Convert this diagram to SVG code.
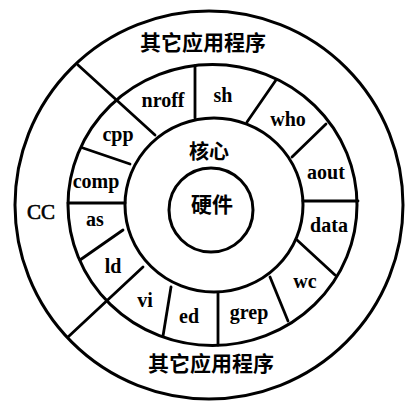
<svg xmlns="http://www.w3.org/2000/svg" width="409" height="402" viewBox="0 0 409 402">
<style>
.ring{fill:none;stroke:#000;stroke-width:3}
.div{stroke:#000;stroke-width:2.8;stroke-linecap:round}
.lbl{font-family:"Liberation Serif","DejaVu Serif",serif;font-weight:bold;font-size:20px;fill:#000;text-anchor:middle}
.cjk{font-family:"Noto Sans CJK SC","Noto Sans CJK TC",sans-serif;font-weight:bold;font-size:21px;fill:#000;text-anchor:middle}
</style>
<rect width="409" height="402" fill="#fff"/>
<g id="rings">
<circle class="ring" cx="209" cy="205" r="194"/>
<ellipse class="ring" cx="212.5" cy="205" rx="144.5" ry="140.5"/>
<ellipse class="ring" cx="214" cy="205" rx="89" ry="87"/>
<circle class="ring" cx="211" cy="210" r="42"/>
</g>
<g id="connectors">
<line class="div" x1="78" y1="65" x2="155" y2="135"/>
<line class="div" x1="68" y1="337" x2="143" y2="267"/>
<line class="div" x1="195" y1="66" x2="195" y2="118"/>
<line class="div" x1="276" y1="80" x2="247" y2="122"/>
<line class="div" x1="326" y1="124" x2="292" y2="157"/>
<line class="div" x1="303" y1="201" x2="358" y2="201"/>
<line class="div" x1="297" y1="240" x2="335" y2="275"/>
<line class="div" x1="270" y1="277" x2="288" y2="321"/>
<line class="div" x1="218" y1="293" x2="218" y2="345"/>
<line class="div" x1="171" y1="287" x2="163" y2="336"/>
<line class="div" x1="123" y1="230" x2="80" y2="260"/>
<line class="div" x1="68" y1="203" x2="125" y2="203"/>
<line class="div" x1="83" y1="148" x2="130" y2="164"/>
</g>
<g id="apps-top"><text class="cjk" x="203" y="50">其它应用程序</text></g>
<g id="apps-bottom"><text class="cjk" x="211" y="371">其它应用程序</text></g>
<g id="cc"><text class="lbl" x="41" y="219" style="font-weight:normal;font-size:21px;stroke:#000;stroke-width:0.6">CC</text></g>
<g id="kernel"><text class="cjk" x="209" y="159" style="font-size:20px">核心</text></g>
<g id="hardware"><text class="cjk" x="212" y="212">硬件</text></g>
<g id="nroff"><text class="lbl" x="163" y="107">nroff</text></g>
<g id="sh"><text class="lbl" x="223" y="102">sh</text></g>
<g id="who"><text class="lbl" x="288" y="126">who</text></g>
<g id="cpp"><text class="lbl" x="118" y="141">cpp</text></g>
<g id="comp"><text class="lbl" x="96" y="188">comp</text></g>
<g id="aout"><text class="lbl" x="326" y="179">aout</text></g>
<g id="data"><text class="lbl" x="329" y="232">data</text></g>
<g id="as"><text class="lbl" x="95" y="226">as</text></g>
<g id="ld"><text class="lbl" x="113" y="273">ld</text></g>
<g id="vi"><text class="lbl" x="145" y="307">vi</text></g>
<g id="ed"><text class="lbl" x="189" y="323">ed</text></g>
<g id="grep"><text class="lbl" x="249" y="319">grep</text></g>
<g id="wc"><text class="lbl" x="305" y="288">wc</text></g>
</svg>
